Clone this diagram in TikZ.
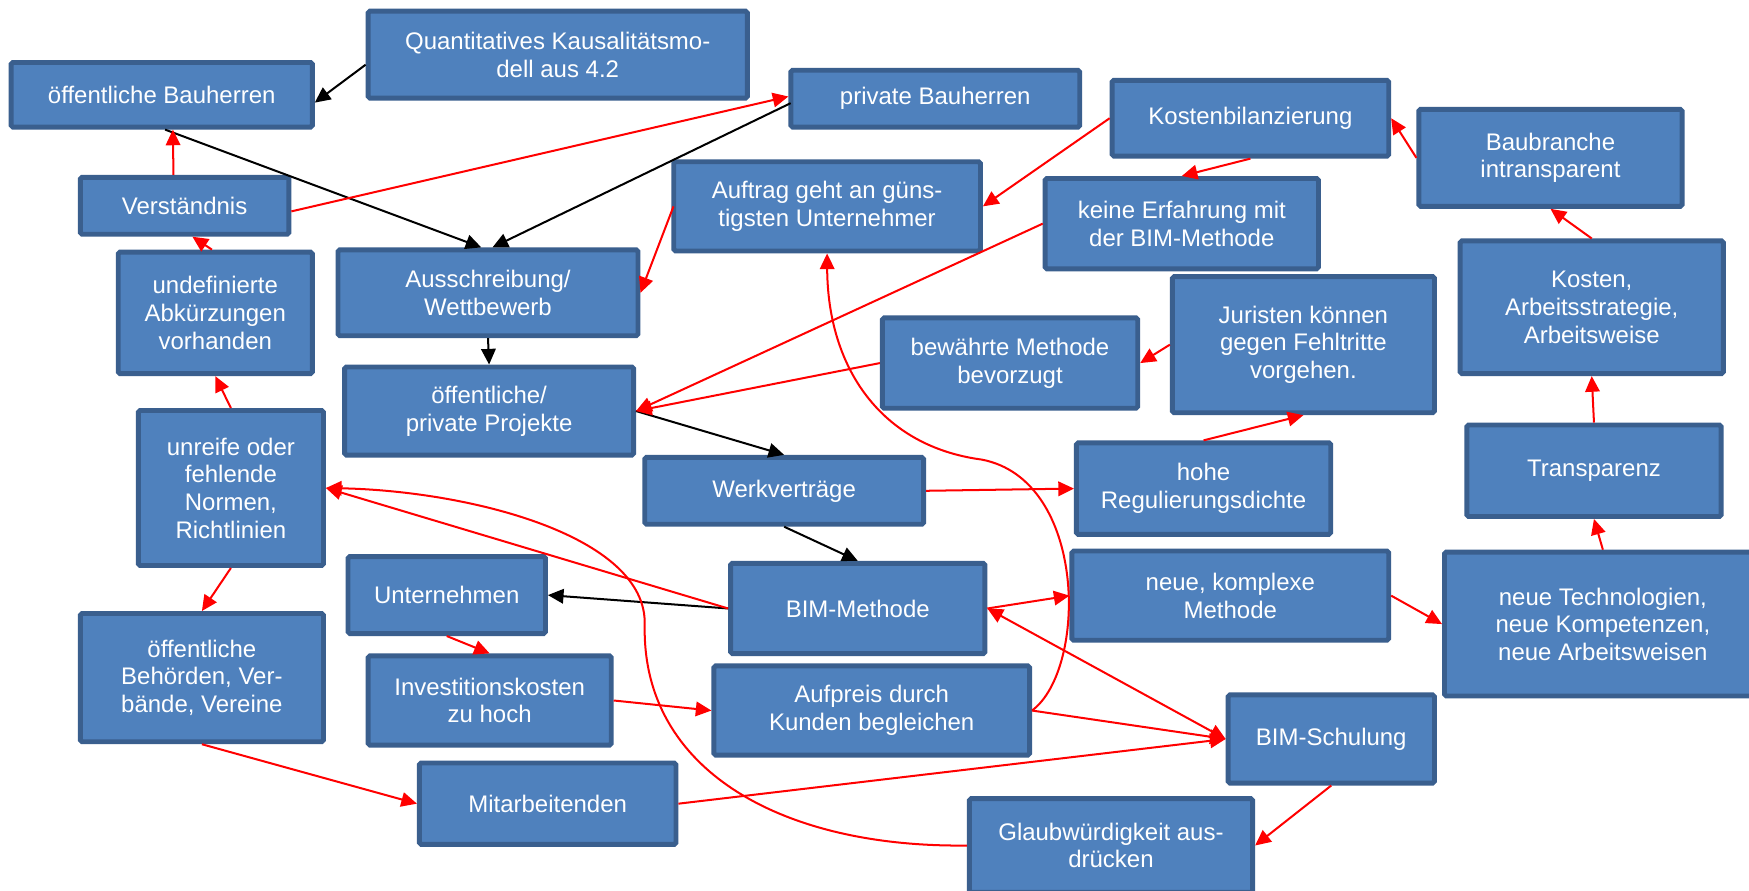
\documentclass[tikz,border=0pt]{standalone}
\usepackage{fontspec}
\setmainfont{Liberation Sans}
\usetikzlibrary{arrows.meta,calc}
\definecolor{boxfill}{HTML}{4F81BD}
\definecolor{boxline}{HTML}{3A5F8E}
\definecolor{linkred}{HTML}{FF0000}
% box given by its corners (x1,y1) and (x2,y2)
\newcommand{\bx}[6]{\node[box,minimum width={(#4-#2)*0.5pt},minimum height={(#5-#3)*0.5pt}] (#1) at ({(#2+#4)/2},{(#3+#5)/2}) {#6};}
\begin{document}
\begin{tikzpicture}[x=0.5pt,y=-0.5pt,
  box/.style={rectangle,rounded corners=0.8pt,fill=boxfill,draw=boxline,line width=2.2pt,inner sep=0pt,
    align=center,text=white,font=\fontsize{10.75}{12.4}\selectfont},
  tip/.style={-{Triangle[length=7pt,width=6.5pt]}},
  blk/.style={tip,draw=black,line width=0.9pt},
  rd/.style={tip,draw=linkred,line width=0.9pt},
  rdboth/.style={{Triangle[length=7pt,width=6.5pt]}-{Triangle[length=7pt,width=6.5pt]},draw=linkred,line width=0.9pt,color=linkred}]
\clip (0,0) rectangle (1568,798);
\fill[white] (0,0) rectangle (1568,798);

% boxes
\bx{Q}{330}{10}{670}{88}{Quantitatives Kausalitätsmo-\\dell aus 4.2}
\bx{oeB}{10}{56}{280}{114}{öffentliche Bauherren}
\bx{pB}{709}{63}{968}{114}{private Bauherren}
\bx{Kost}{997}{72}{1245}{140}{Kostenbilanzierung}
\bx{Bau}{1272}{98}{1508}{185}{Baubranche\\intransparent}
\bx{Verst}{72}{159}{259}{210}{Verständnis}
\bx{Auftrag}{604}{145}{879}{225}{Auftrag geht an güns-\\tigsten Unternehmer}
\bx{keine}{937}{160}{1182}{241}{keine Erfahrung mit\\der BIM-Methode}
\bx{undef}{106}{226}{280}{335}{undefinierte\\Abkürzungen\\vorhanden}
\bx{Aus}{303}{224}{572}{301}{Ausschreibung/\\Wettbewerb}
\bx{Kosten}{1309}{216}{1545}{335}{Kosten,\\Arbeitsstrategie,\\Arbeitsweise}
\bx{Jur}{1051}{248}{1286}{370}{Juristen können\\gegen Fehltritte\\vorgehen.}
\bx{bew}{791}{285}{1020}{366}{bewährte Methode\\bevorzugt}
\bx{OPP}{309}{329}{568}{408}{öffentliche/\\private Projekte}
\bx{unreif}{124}{368}{290}{507}{unreife oder\\fehlende\\Normen,\\Richtlinien}
\bx{Trans}{1315}{381}{1543}{463}{Transparenz}
\bx{hohe}{965}{397}{1193}{479}{hohe\\Regulierungsdichte}
\bx{Werk}{578}{410}{828}{470}{Werkverträge}
\bx{Unt}{312}{499}{489}{568}{Unternehmen}
\bx{BIM}{655}{505}{883}{586}{BIM-Methode}
\bx{neueK}{961}{494}{1245}{574}{neue, komplexe\\Methode}
\bx{neueT}{1295}{495}{1579}{624}{neue Technologien,\\neue Kompetenzen,\\neue Arbeitsweisen}
\bx{oeBeh}{72}{550}{290}{665}{öffentliche\\Behörden, Ver-\\bände, Vereine}
\bx{Inv}{330}{588}{548}{668}{Investitionskosten\\zu hoch}
\bx{Aufp}{640}{597}{923}{677}{Aufpreis durch\\Kunden begleichen}
\bx{BIMS}{1101}{623}{1286}{702}{BIM-Schulung}
\bx{Mit}{376}{684}{606}{757}{Mitarbeitenden}
\bx{Glaub}{869}{716}{1123}{800}{Glaubwürdigkeit aus-\\drücken}

% black connectors
\draw[blk] ($(Q.west)+(0,9)$) -- ($(oeB.east)+(0,7)$);
\draw[blk] ($(oeB.south)+(3,0)$) -- ($(Aus.north)+(-6,0)$);
\draw[blk] ($(pB.west)+(2,4)$) -- ($(Aus.north)+(4,0)$);
\draw[blk] (Aus.south) -- (OPP.north);
\draw[blk] (OPP.east) -- (Werk.north);
\draw[blk] (Werk.south) -- (BIM.north);
\draw[blk] (BIM.west) -- (Unt.east);

% red connectors
\draw[rd] ($(Verst.north)+(-10,0)$) -- ($(oeB.south)+(10,0)$);
\draw[rd] ($(Verst.east)+(0,5)$) -- ($(pB.west)+(0,-2)$);
\draw[rd] ($(undef.north)+(-3,0)$) -- ($(Verst.south)+(7,0)$);
\draw[rd] ($(Auftrag.west)+(2,0)$) -- (Aus.east);
\draw[rd] (Kost.west) -- (Auftrag.east);
\draw[rd] (Kost.south) -- (keine.north);
\draw[rd] (Bau.west) -- (Kost.east);
\draw[rd] (keine.west) -- (OPP.east);
\draw[rd] (bew.west) -- (OPP.east);
\draw[rd] (Jur.west) -- (bew.east);
\draw[rd] (hohe.north) -- (Jur.south);
\draw[rd] (Werk.east) -- (hohe.west);
\draw[rd] (Kosten.north) -- (Bau.south);
\draw[rd] (Trans.north) -- (Kosten.south);
\draw[rd] (neueT.north) -- (Trans.south);
\draw[rd] (neueK.east) -- (neueT.west);
\draw[rd] (BIM.east) -- (neueK.west);
\draw[rdboth] (BIM.east) -- (BIMS.west);
\draw[rd] (Aufp.east) -- (BIMS.west);
\draw[rd] (Mit.east) -- (BIMS.west);
\draw[rd] (BIMS.south) -- (Glaub.east);
\draw[rd] (BIM.west) -- (unreif.east);
\draw[rd] (Glaub.west) .. controls (700,760) and (575,690) .. (578,560)
  .. controls (580,480) and (420,440) .. (unreif.east);
\draw[rd] (Aufp.east) .. controls (975,600) and (975,430) .. (880,412)
  .. controls (790,400) and (742,330) .. (Auftrag.south);
\draw[rd] (Unt.south) -- (Inv.north);
\draw[rd] (Inv.east) -- (Aufp.west);
\draw[rd] (unreif.south) -- (oeBeh.north);
\draw[rd] (unreif.north) -- (undef.south);
\draw[rd] (oeBeh.south) -- (Mit.west);
\end{tikzpicture}
\end{document}
